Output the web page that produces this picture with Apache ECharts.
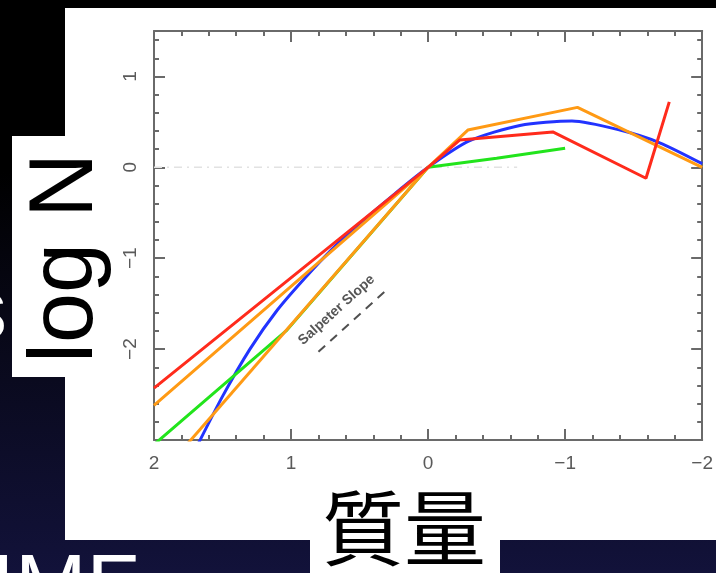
<!DOCTYPE html>
<html>
<head>
<meta charset="utf-8">
<script src="https://cdn.jsdelivr.net/npm/echarts@6/dist/echarts.min.js"></script>
<style>
  html, body { margin: 0; padding: 0; }
  body {
    width: 716px; height: 573px; overflow: hidden;
    background: linear-gradient(180deg, #000 0%, #000 30%, #080818 58%, #12123a 100%);
  }
  #chart { width: 716px; height: 573px; }
</style>
</head>
<body>
<div id="chart"></div>
<script>
  // values, [mass, logN]
  const xTicks = [2, 1, 0, -1, -2];
  const yTicks = [1, 0, -1, -2];
  const redLine = [[2, -2.43], [0, 0], [-0.23, 0.30], [-0.91, 0.39], [-1.59, -0.12], [-1.76, 0.72]];
  const orangeUpper = [[2, -2.62], [0, 0], [-0.29, 0.41], [-1.09, 0.66], [-2, 0.0]];
  const orangeLower = [[1.76, -3.05], [0, 0]];
  const greenLine = [[2, -3.05], [1.03, -1.79], [0, 0], [-0.5, 0.10], [-1.0, 0.21]];
  const blueLine = [[1.68, -3.05], [1.5, -2.52], [1.3, -2.0], [1.1, -1.57], [0.9, -1.22],
    [0.7, -0.9], [0.5, -0.62], [0.25, -0.3], [0, 0], [-0.3, 0.29],
    [-0.67, 0.46], [-1.05, 0.51], [-1.4, 0.41], [-1.69, 0.27], [-2, 0.04]];
  const salpeterSlope = [[0.80, -2.03], [0.29, -1.33]];
  const salpeterText = [[0.667, -1.57]];
  const zeroLevel = [[2, 0], [-0.65, 0]];

  const minus = v => (v < 0 ? '\u2212' + Math.abs(v) : String(v));
  const axisGray = '#6a6a6a';

  function xAx(pos, labels) {
    return {
      type: 'value', min: -2, max: 2, interval: 1, inverse: true, position: pos,
      axisLine: { show: true, onZero: false, lineStyle: { color: axisGray, width: 2 } },
      axisTick: { show: true, inside: true, length: 11, lineStyle: { color: axisGray, width: 2 } },
      minorTick: { show: true, splitNumber: 5, length: 5, lineStyle: { color: axisGray, width: 2 } },
      axisLabel: {
        show: labels, color: '#5a5a5a', fontSize: 19, margin: 14,
        fontFamily: 'Liberation Sans',
        formatter: v => (xTicks.indexOf(v) >= 0 ? minus(v) : '')
      },
      splitLine: { show: false }, minorSplitLine: { show: false }
    };
  }
  function yAx(pos, labels, step, len) {
    return {
      type: 'value', min: -3, max: 1.5, interval: step, position: pos,
      axisLine: { show: step === 1, onZero: false, lineStyle: { color: axisGray, width: 2 } },
      axisTick: { show: true, inside: true, length: len, lineStyle: { color: axisGray, width: 2 } },
      axisLabel: {
        show: labels, color: '#5a5a5a', fontSize: 19, margin: 14, rotate: 90,
        fontFamily: 'Liberation Sans',
        formatter: v => (yTicks.indexOf(v) >= 0 ? minus(v) : '')
      },
      splitLine: { show: false }
    };
  }

  const chart = echarts.init(document.getElementById('chart'), null, { renderer: 'canvas' });
  chart.setOption({
    animation: false,
    backgroundColor: 'transparent',
    grid: { left: 154, right: 13, top: 31, bottom: 133, containLabel: false },
    xAxis: [xAx('bottom', true), xAx('top', false)],
    yAxis: [yAx('left', true, 1, 11), yAx('right', false, 1, 11),
            yAx('left', false, 0.2, 5), yAx('right', false, 0.2, 5)],
    graphic: [
      { type: 'text', z: -20, silent: true, x: -36, y: 314,
        style: { text: 's', fill: '#fff', font: '86px "Liberation Sans"', align: 'left', verticalAlign: 'middle' } },
      { type: 'rect', z: -10, silent: true, shape: { x: 65, y: 8, width: 651, height: 532 }, style: { fill: '#fff' } },
      { type: 'rect', z: -10, silent: true, shape: { x: 12, y: 136, width: 60, height: 241 }, style: { fill: '#fff' } },
      { type: 'rect', z: -10, silent: true, shape: { x: 310, y: 480, width: 190, height: 93 }, style: { fill: '#fff' } },
      { type: 'text', z: 5, silent: true, x: 67, y: 258, rotation: Math.PI / 2,
        style: { text: 'log N', fill: '#000', font: '90px "Liberation Sans"', align: 'center', verticalAlign: 'middle' } },
      { type: 'text', z: 5, silent: true, x: 404, y: 528,
        style: { text: '質量', fill: '#000', font: '82px "Noto Sans CJK JP"', align: 'center', verticalAlign: 'middle' } },
      { type: 'text', z: 5, silent: true, x: -9, y: 590,
        style: { text: 'IMF', fill: '#fff', font: '86px "Liberation Sans"', align: 'left', verticalAlign: 'middle' } }
    ],
    series: [
      { type: 'line', data: zeroLevel, showSymbol: false,
        lineStyle: { color: '#e2e2e2', width: 1.5, type: [8, 5, 2, 5] } },
      { type: 'line', data: salpeterSlope, showSymbol: false,
        lineStyle: { color: '#505050', width: 2, type: [9, 7] } },
      { type: 'scatter', data: salpeterText, symbolSize: 1, itemStyle: { color: 'transparent' },
        label: { show: true, position: 'inside', formatter: 'Salpeter Slope', rotate: 42,
          color: '#2a2a2a', fontSize: 14, fontWeight: 'bold', fontFamily: 'Liberation Sans' } },
      { type: 'line', data: blueLine, smooth: 0.25, showSymbol: false,
        lineStyle: { color: '#2233ff', width: 3 } },
      { type: 'line', data: greenLine, showSymbol: false,
        lineStyle: { color: '#22e41c', width: 3 } },
      { type: 'line', data: orangeUpper, showSymbol: false,
        lineStyle: { color: '#ff9a14', width: 3 } },
      { type: 'line', data: orangeLower, showSymbol: false,
        lineStyle: { color: '#ff9a14', width: 3 } },
      { type: 'line', data: redLine, showSymbol: false,
        lineStyle: { color: '#ff2b1c', width: 3 } }
    ]
  });
</script>
</body>
</html>
